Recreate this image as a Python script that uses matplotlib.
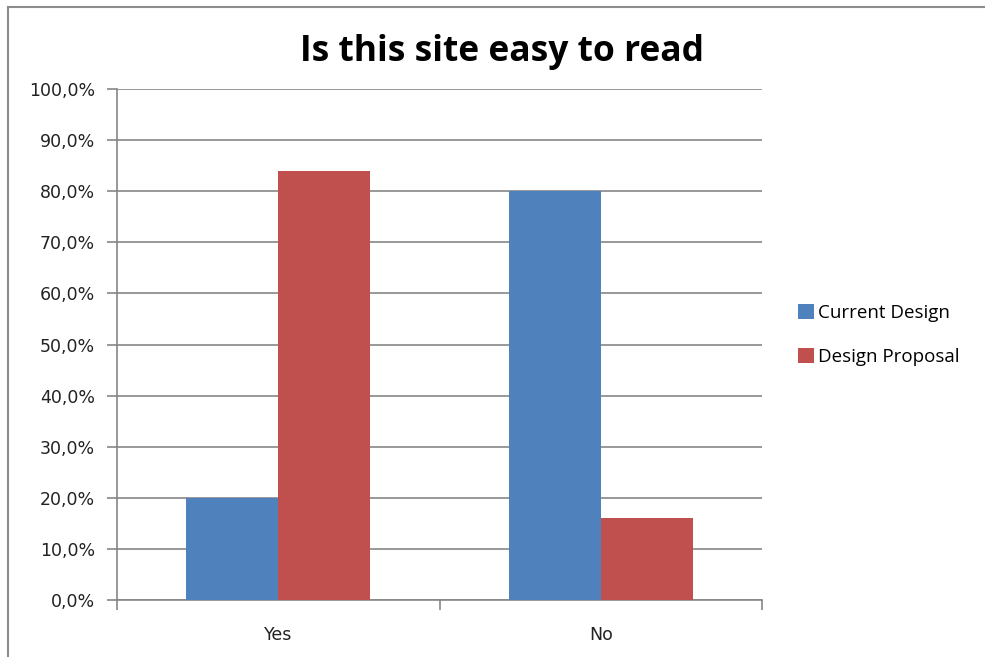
import matplotlib.pyplot as plt
import numpy as np
from matplotlib.lines import Line2D
from matplotlib.patches import Patch
from matplotlib.ticker import FuncFormatter

categories = ["Yes", "No"]
current_design = [20.0, 80.0]
design_proposal = [84.0, 16.0]
series_names = ["Current Design", "Design Proposal"]

blue = "#4F81BD"
red = "#C0504D"
grid_gray = "#868686"

fig = plt.figure(figsize=(9.85, 6.57), dpi=100)
ax = fig.add_axes([117 / 985, 1 - 600 / 657, (762 - 117) / 985, (600 - 89) / 657])

x = np.arange(len(categories))
w = 0.285
ax.bar(x - w / 2, current_design, w, color=blue, zorder=3)
ax.bar(x + w / 2, design_proposal, w, color=red, zorder=3)

ax.set_xlim(-0.5, len(categories) - 0.5)
ax.set_ylim(0, 100)
ax.set_yticks(np.arange(0, 101, 10))
ax.yaxis.set_major_formatter(FuncFormatter(lambda v, p: f"{v:.1f}%".replace(".", ",")))
ax.yaxis.grid(True, color=grid_gray, linewidth=1.2, zorder=0)

# category ticks between groups, labels centred under groups
ax.set_xticks(np.arange(-0.5, len(categories), 1.0))
ax.set_xticklabels([])
ax.set_xticks(x, minor=True)
ax.set_xticklabels(categories, minor=True)
ax.tick_params(axis="x", which="minor", length=0, pad=19, labelsize=12.5, labelcolor="#222222")
ax.tick_params(axis="x", which="major", length=7, width=1.2, color=grid_gray, direction="out")
ax.tick_params(axis="y", length=7, width=1.2, color=grid_gray, labelsize=12.5,
               labelcolor="#222222", pad=9)

for s in ["top", "right"]:
    ax.spines[s].set_visible(False)
for s in ["left", "bottom"]:
    ax.spines[s].set_color(grid_gray)
    ax.spines[s].set_linewidth(1.2)

fig.text(502 / 985, 1 - 52 / 657, "Is this site easy to read", ha="center", va="center",
         fontsize=25.5, fontweight="bold", family="Open Sans")

handles = [Patch(facecolor=blue), Patch(facecolor=red)]
leg = fig.legend(handles, series_names, loc="center left",
                 bbox_to_anchor=(781 / 985, 1 - 335 / 657), frameon=False,
                 prop={"family": "Open Sans", "size": 13.5}, handlelength=0.85,
                 handleheight=0.85, handletextpad=0.25, labelspacing=1.4)

# outer chart border (left and top edges visible)
fig.add_artist(Line2D([8 / 985, 8 / 985], [0, 1 - 7 / 657], color="#8c8c8c", linewidth=1.5))
fig.add_artist(Line2D([8 / 985, 1], [1 - 7 / 657, 1 - 7 / 657], color="#8c8c8c", linewidth=1.5))

fig.savefig("out.png", dpi=100)
